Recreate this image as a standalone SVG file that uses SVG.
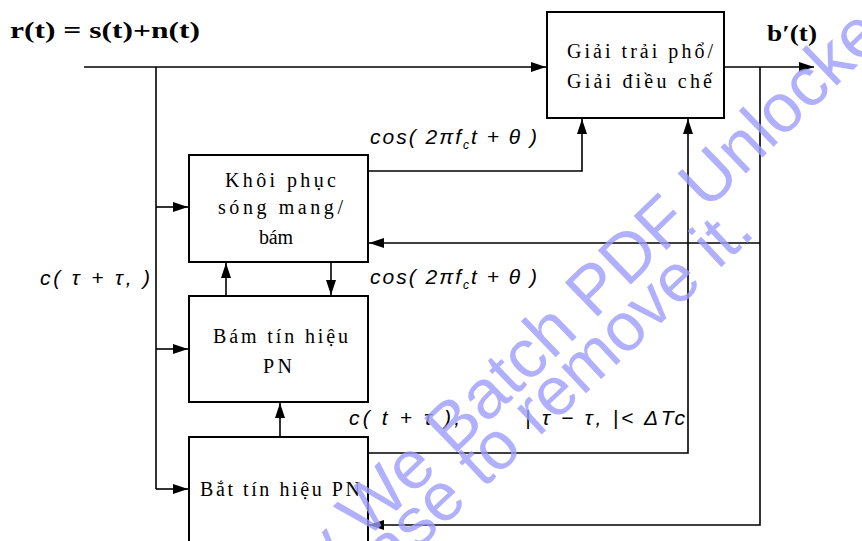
<svg xmlns="http://www.w3.org/2000/svg" width="862" height="541" viewBox="0 0 862 541">
<style>
.box{fill:#fff;stroke:#000;stroke-width:2}
.ln{fill:none;stroke:#000;stroke-width:1.6}
.bt{font-family:"Liberation Serif",serif;font-size:20px;fill:#000}
.ti{font-family:"Liberation Serif",serif;font-size:23px;font-weight:bold;fill:#000}
.it{font-family:"Liberation Sans",sans-serif;font-size:21px;font-style:italic;fill:#000}
.wm{font-family:"Liberation Sans",sans-serif;fill:#9c9cff;fill-opacity:0.8}
</style>
<defs>
<marker id="ah" markerUnits="userSpaceOnUse" markerWidth="16" markerHeight="12" refX="15" refY="5" orient="auto">
<path d="M0,0 L15,5 L0,10 z" fill="#000"/>
</marker>
</defs>
<text class="ti" x="10" y="38" textLength="190" lengthAdjust="spacingAndGlyphs">r(t) = s(t)+n(t)</text>
<text class="ti" x="767" y="41" textLength="50" lengthAdjust="spacingAndGlyphs">b′(t)</text>
<g id="connectors">
<path class="ln" d="M84,67 H546" marker-end="url(#ah)"/>
<path class="ln" d="M156,67 V489"/>
<path class="ln" d="M156,207 H188" marker-end="url(#ah)"/>
<path class="ln" d="M156,349 H188" marker-end="url(#ah)"/>
<path class="ln" d="M156,489 H188" marker-end="url(#ah)"/>
<path class="ln" d="M724,67 H814" marker-end="url(#ah)"/>
<path class="ln" d="M760,67 V525 H369" marker-end="url(#ah)"/>
<path class="ln" d="M760,243 H369" marker-end="url(#ah)"/>
<path class="ln" d="M368,171 H582 V119" marker-end="url(#ah)"/>
<path class="ln" d="M368,453 H688 V119" marker-end="url(#ah)"/>
<path class="ln" d="M226,296 V263" marker-end="url(#ah)"/>
<path class="ln" d="M331,262 V295" marker-end="url(#ah)"/>
<path class="ln" d="M280,437 V403" marker-end="url(#ah)"/>
</g>
<g id="giai">
<rect class="box" x="547" y="12" width="177" height="106"/>
<text class="bt" x="567" y="58" textLength="146" lengthAdjust="spacing">Giải trải phổ/</text>
<text class="bt" x="567" y="88" textLength="145" lengthAdjust="spacing">Giải điều chế</text>
</g>
<g id="khoi">
<rect class="box" x="189" y="155" width="179" height="107"/>
<text class="bt" x="225" y="187" textLength="111" lengthAdjust="spacing">Khôi phục</text>
<text class="bt" x="218" y="214" textLength="125" lengthAdjust="spacing">sóng mang/</text>
<text class="bt" x="259" y="244" textLength="34" lengthAdjust="spacing">bám</text>
</g>
<g id="bam">
<rect class="box" x="189" y="296" width="179" height="106"/>
<text class="bt" x="213" y="343" textLength="135" lengthAdjust="spacing">Bám tín hiệu</text>
<text class="bt" x="263" y="373" textLength="29" lengthAdjust="spacing">PN</text>
</g>
<g id="bat">
<rect class="box" x="189" y="437" width="179" height="112"/>
<text class="bt" x="200" y="496" textLength="160" lengthAdjust="spacing">Bắt tín hiệu PN</text>
</g>
<g id="labels">
<text class="it" x="370" y="144" letter-spacing="2">cos( 2πf<tspan font-size="12" dy="5">c</tspan><tspan dy="-5">t + θ )</tspan></text>
<text class="it" x="370" y="284" letter-spacing="2">cos( 2πf<tspan font-size="12" dy="5">c</tspan><tspan dy="-5">t + θ )</tspan></text>
<text class="it" x="40" y="285" textLength="110" lengthAdjust="spacing">c( τ + τ, )</text>
<text class="it" x="349" y="425" textLength="111" lengthAdjust="spacing">c( t + τ ),</text>
<text class="it" x="525" y="425" textLength="160" lengthAdjust="spacing">| τ − τ, |&lt; ΔTc</text>
</g>
<g id="watermark">
<text class="wm" font-size="69" transform="translate(327,578) rotate(-44)">y We Batch PDF Unlocker</text>
<text class="wm" font-size="68" transform="translate(389,577) rotate(-43)">ase to remove it.</text>
</g>
</svg>
